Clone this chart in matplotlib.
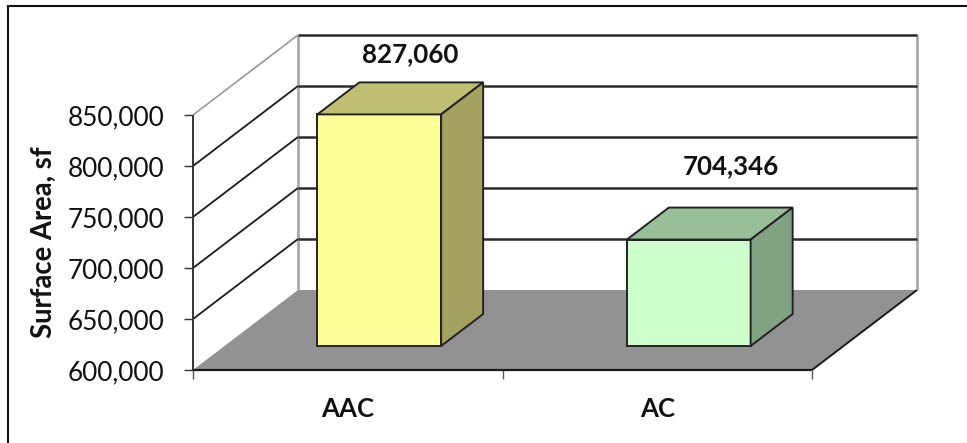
import matplotlib
matplotlib.use("Agg")
import matplotlib.pyplot as plt
from matplotlib.patches import Polygon, Rectangle

categories = ["AAC", "AC"]
values = [827060, 704346]
value_labels = ["827,060", "704,346"]
y_ticks = [600000, 650000, 700000, 750000, 800000, 850000]
y_labels = ["600,000", "650,000", "700,000", "750,000", "800,000", "850,000"]

front_colors = ["#FFFF99", "#CCFFCC"]
top_colors = ["#BFBF73", "#99BF99"]
side_colors = ["#A3A35F", "#82A382"]
# the value labels sit by hand above each bar, offsets in pixels
label_offsets = [(-11, 28), (0, 41)]

W, H = 967, 443
y_min, y_max = 600000, 850000
# oblique projection: one unit of depth moves this far in data units
depth_dx = 105 / 309.5
depth_dy = 80 / 255 * (y_max - y_min)

plt.rcParams["font.family"] = ["Lato", "DejaVu Sans"]

fig = plt.figure(figsize=(W / 100, H / 100), dpi=100)
ax = fig.add_axes([193 / W, 1 - 370 / H, 619 / W, 255 / H])
ax.set_xlim(0, 2)
ax.set_ylim(y_min, y_max)
ax.patch.set_visible(False)
for spine in ax.spines.values():
    spine.set_visible(False)


def proj(x, y, d):
    return x + d * depth_dx, y + d * depth_dy


def face(points, **kw):
    ax.add_patch(Polygon([proj(*p) for p in points], closed=True, clip_on=False, **kw))


def seg(p, q, color="#1a1a1a", lw=1.6, z=2):
    a, b = proj(*p), proj(*q)
    ax.plot([a[0], b[0]], [a[1], b[1]], color=color, lw=lw, clip_on=False,
            solid_capstyle="butt", zorder=z)


# outer frame runs past the bottom and right of the figure
fig.add_artist(Rectangle((8 / W, -0.05), 1.2, 1.05 - 6 / H, transform=fig.transFigure,
                         fill=False, ec="#111111", lw=1.5))

# floor
face([(0, y_min, 0), (2, y_min, 0), (2, y_min, 1), (0, y_min, 1)],
     fc="#929292", ec="none", zorder=1)

# back wall and side wall grid
seg((0, y_min, 1), (0, y_max, 1), color="#a6a6a6", lw=1.9)
seg((2, y_min, 1), (2, y_max, 1), color="#a6a6a6", lw=1.9)
for tick in y_ticks[1:]:
    top = tick == y_max
    seg((0, tick, 1), (2, tick, 1), color="#2a2a2a", lw=1.8)
    seg((0, tick, 0), (0, tick, 1), color="#999999" if top else "#1a1a1a",
        lw=1.2 if top else 1.3)

# axis lines on the front plane
seg((0, y_min, 0), (0, y_max, 0), color="#333333", lw=1.4, z=3)
seg((0, y_min, 0), (2, y_min, 0), lw=1.6, z=3)
seg((2, y_min, 0), (2, y_min, 1), lw=1.4, z=3)

ax.set_yticks(y_ticks)
ax.set_yticklabels(y_labels, fontsize=18.9, color="#111111")
ax.tick_params(axis="y", length=6.5, width=1.0, color="#333333", pad=14)
ax.set_xticks([0, 1, 2])
ax.set_xticklabels([])
ax.tick_params(axis="x", length=6.5, width=1.0, color="#555555", direction="out")

# bars
for i, (val, lab) in enumerate(zip(values, value_labels)):
    x0, x1 = i + 0.3, i + 0.7
    d0, d1 = 0.3, 0.7
    edge = dict(ec="#222222", lw=1.4, joinstyle="miter", zorder=4)
    face([(x0, y_min, d0), (x1, y_min, d0), (x1, val, d0), (x0, val, d0)],
         fc=front_colors[i], **edge)
    face([(x0, val, d0), (x1, val, d0), (x1, val, d1), (x0, val, d1)],
         fc=top_colors[i], **edge)
    face([(x1, y_min, d0), (x1, y_min, d1), (x1, val, d1), (x1, val, d0)],
         fc=side_colors[i], **edge)
    ax.annotate(lab, proj(i + 0.5, val, d1), xytext=label_offsets[i],
                textcoords="offset pixels", ha="center", va="center", fontsize=18.6,
                fontweight="bold", color="#111111", annotation_clip=False, zorder=5)
    ax.annotate(categories[i], (i + 0.5, y_min), xytext=(0, -39),
                textcoords="offset pixels", ha="center", va="center", fontsize=18.6,
                fontweight="bold", color="#111111", annotation_clip=False)

fig.text(44 / W, 1 - 242 / H, "Surface Area, sf", rotation=90, ha="center", va="center",
         fontsize=19.8, fontweight="bold", color="#111111")

fig.savefig("out.png", dpi=100, facecolor="white")
